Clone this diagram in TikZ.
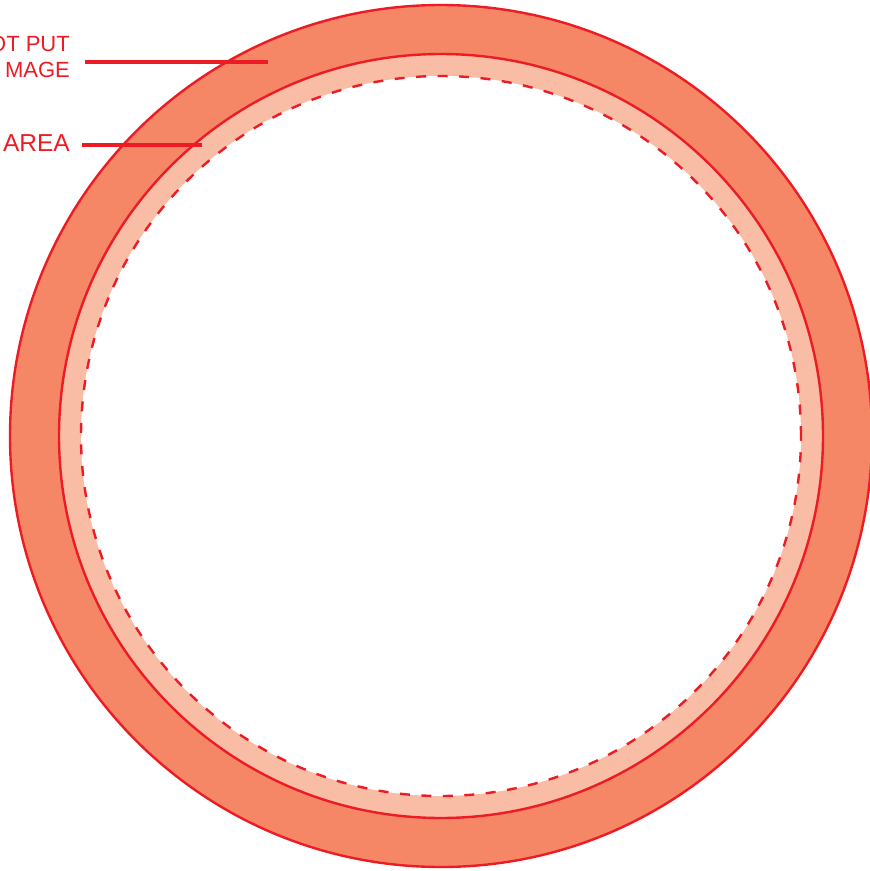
\documentclass[tikz,border=0pt]{standalone}
\usepackage{fontspec}
\setmainfont{Liberation Sans}
\usetikzlibrary{positioning}
\definecolor{ZoneRed}{HTML}{ED1C24}
\definecolor{ZoneSalmon}{HTML}{F58766}
\definecolor{ZoneLightSalmon}{HTML}{F9BCA4}

\begin{document}
\begin{tikzpicture}[x=1pt,y=-1pt,
    ring/.style={draw=ZoneRed,line width=2.4pt},
    safeline/.style={draw=ZoneRed,line width=2.4pt,dash pattern=on 10pt off 11.5pt},
    lbl/.style={anchor=base east,inner sep=0pt,text=ZoneRed,font=\fontsize{22}{26}\selectfont},
    pointer/.style={ZoneRed,line width=4.5pt}
  ]
    \useasboundingbox (0,0) rectangle (870,871);
    \coordinate (c) at (441,436);
    \fill[ring,fill=ZoneSalmon] (c) circle[radius=431pt];
    \fill[ring,fill=ZoneLightSalmon] (c) circle[radius=382pt];
    \fill[white] (c) circle[radius=360pt];
    \draw[safeline] (c) circle[radius=360pt];
    \node[lbl] (put) at (70,51) {OT PUT};
    \node[lbl] (img) at (70,77) {MAGE};
    \node[lbl,font=\fontsize{24.5}{28}\selectfont] (area) at (70,151) {AREA};
    \coordinate (putstart) at (85,62); \coordinate (putend) at (268,62);
    \coordinate (areastart) at (82,145); \coordinate (areaend) at (202,145);
    \draw[pointer] (putstart) -- (putend);
    \draw[pointer] (areastart) -- (areaend);
  \end{tikzpicture}
\end{document}
